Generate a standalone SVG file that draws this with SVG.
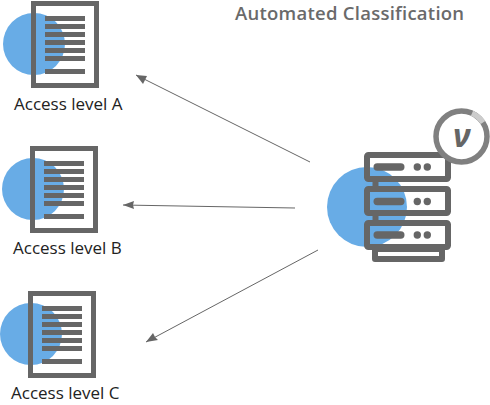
<svg xmlns="http://www.w3.org/2000/svg" width="490" height="405" viewBox="0 0 490 405">
<style>
text{font-family:"Open Sans","Liberation Sans",sans-serif;font-size:17px;fill:#222}
.title{font-size:18.500px;font-weight:600;fill:#6a6a6a;letter-spacing:.25px}
.c{fill:#68ace6}
.f{fill:none;stroke:#666;stroke-width:5}
.l{fill:#666}
.s{fill:none;stroke:#666;stroke-width:6;stroke-linejoin:round}
.k{fill:none;stroke:#666;stroke-width:1}
</style>
<defs>
<g id="lines">
<rect x="14" y="16" width="40" height="5" class="l"/><rect x="14" y="24" width="40" height="5" class="l"/><rect x="14" y="32" width="40" height="5" class="l"/><rect x="14" y="40" width="40" height="5" class="l"/><rect x="14" y="48" width="40" height="5" class="l"/><rect x="14" y="56" width="40" height="5" class="l"/><rect x="14" y="69" width="40" height="5" class="l"/>
<rect x="2.500" y="3.500" width="63" height="82" class="f"/>
</g>
</defs>
<text class="title" x="235" y="19.800">Automated Classification</text>
<g id="connectors">
<path class="k" d="M310 162L136 75"/>
<path d="M136 75L147 76L145 80L143 84Z" fill="#666"/>
<path class="k" d="M295 208L123 205"/>
<path d="M123 205L134 201L133 205L134 209Z" fill="#666"/>
<path class="k" d="M318 250L146 342"/>
<path d="M146 342L153 333L155 337L158 340Z" fill="#666"/>
</g>
<g id="level-a">
<circle class="c" cx="34" cy="44" r="31"/>
<use href="#lines" x="31" y="0"/>
<text x="14" y="110">Access level A</text>
</g>
<g id="level-b">
<circle class="c" cx="33" cy="189" r="31"/>
<use href="#lines" x="30" y="145"/>
<text x="13" y="254">Access level B</text>
</g>
<g id="level-c">
<circle class="c" cx="31" cy="334" r="31"/>
<use href="#lines" x="28" y="290"/>
<text x="11" y="399">Access level C</text>
</g>
<g id="server">
<circle class="c" cx="367" cy="207" r="40"/>
<rect x="375" y="249" width="67" height="10" class="s"/>
<path d="M375.500 181v7M375.500 215v7" stroke="#666" stroke-width="6" stroke-linecap="round" fill="none"/>
<rect x="367" y="155" width="81" height="24" rx="1.500" class="s"/>
<rect x="367" y="189" width="81" height="24" rx="1.500" class="s"/>
<rect x="367" y="223" width="81" height="24" rx="1.500" class="s"/>
<g fill="#666">
<rect x="373.500" y="163.300" width="31" height="7.400" rx="3.700"/><circle cx="417.300" cy="167" r="3.700"/><circle cx="427.300" cy="167" r="3.700"/>
<rect x="373.500" y="197.800" width="31" height="7.400" rx="3.700"/><circle cx="417.300" cy="201.500" r="3.700"/><circle cx="427.300" cy="201.500" r="3.700"/>
<rect x="373.500" y="231.300" width="31" height="7.400" rx="3.700"/><circle cx="417.300" cy="235" r="3.700"/><circle cx="427.300" cy="235" r="3.700"/>
</g>
<circle cx="461.500" cy="136.500" r="25.500" fill="#fff" stroke="#808080" stroke-width="5.500"/>
<path d="M472 113.200A25.500 25.500 0 0 1 483 122.500" fill="none" stroke="#ccc" stroke-width="5.500"/>
<text x="453" y="147" style="font-size:32px;font-weight:700;font-style:italic;fill:#666">ν</text>
</g>
</svg>
